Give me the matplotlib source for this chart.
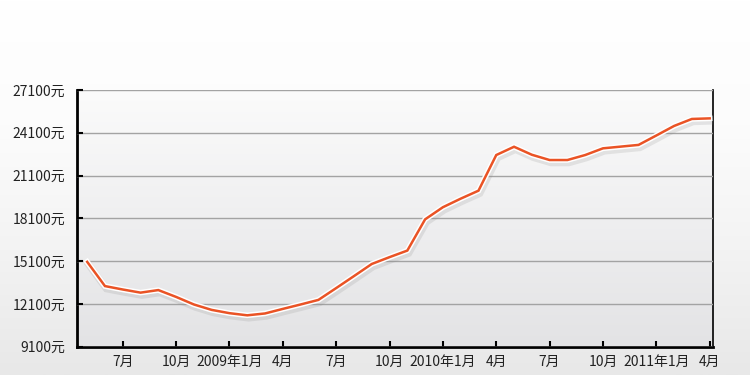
import matplotlib
matplotlib.use("Agg")
import matplotlib.pyplot as plt
import matplotlib.patheffects as pe
from matplotlib.colors import LinearSegmentedColormap
import numpy as np

plt.rcParams["font.family"] = ["Noto Sans CJK SC", "DejaVu Sans"]

# monthly average price, May 2008 .. Apr 2011
month_idx = list(range(36))
prices = [15050, 13350, 13110, 12890, 13070, 12590, 12060, 11680, 11450, 11300,
          11430, 11750, 12060, 12380, 13210, 14050, 14900, 15380, 15840, 18030,
          18880, 19480, 20040, 22540, 23120, 22560, 22190, 22190, 22540, 23010,
          23130, 23250, 23910, 24580, 25070, 25110]

x_tick_pos = [2, 5, 8, 11, 14, 17, 20, 23, 26, 29, 32, 35]
x_tick_labels = ["7月", "10月", "2009年1月", "4月", "7月", "10月", "2010年1月", "4月",
                 "7月", "10月", "2011年1月", "4月"]
y_ticks = [9100, 12100, 15100, 18100, 21100, 24100, 27100]
y_tick_labels = [f"{v}元" for v in y_ticks]

fig = plt.figure(figsize=(7.5, 3.75), dpi=100)

# page background: white top, light grey towards the bottom
grad = np.linspace(0, 1, 256).reshape(-1, 1)
bg = fig.add_axes([0, 0, 1, 1], zorder=-10)
bg.imshow(grad, aspect="auto", origin="lower", extent=(0, 1, 0, 1),
          cmap=LinearSegmentedColormap.from_list(
              "bg", ["#e8e8e8", "#f3f3f3", "#fcfcfc", "#ffffff"]))
bg.set_axis_off()

ax = fig.add_axes([0.102, 0.0755, 0.849, 0.6845])
ax.set_xlim(-0.6, 35.2)
ax.set_ylim(9100, 27100)

# plot area gradient
ax.imshow(grad, aspect="auto", origin="lower", extent=(-0.6, 35.2, 9100, 27100),
          zorder=0, cmap=LinearSegmentedColormap.from_list(
              "pa", ["#e3e3e5", "#efeff0", "#fbfbfb"]))

ax.grid(axis="y", color="#a3a3a3", linewidth=1.0, zorder=1)
ax.set_axisbelow(False)

ax.plot(month_idx, prices, color="#ea5325", linewidth=1.8, zorder=3,
        solid_joinstyle="miter",
        path_effects=[pe.SimpleLineShadow(offset=(1, -2), shadow_color="#888888",
                                          alpha=0.18, linewidth=5),
                      pe.Stroke(linewidth=4.0, foreground="white"),
                      pe.Normal()])

ax.set_xticks(x_tick_pos)
ax.set_xticklabels(x_tick_labels)
ax.set_yticks(y_ticks)
ax.set_yticklabels(y_tick_labels)
ax.tick_params(axis="x", direction="in", length=4, width=1.5, color="black",
               labelsize=10, labelcolor="#222222", pad=6)
ax.tick_params(axis="y", direction="in", length=4, width=1.5, color="black",
               labelsize=10, labelcolor="#222222", pad=8)

for side in ["left", "bottom"]:
    ax.spines[side].set_linewidth(2.0)
    ax.spines[side].set_color("black")
ax.spines["right"].set_linewidth(1.2)
ax.spines["right"].set_color("black")
ax.spines["top"].set_visible(False)

fig.savefig("out.png", dpi=100)
